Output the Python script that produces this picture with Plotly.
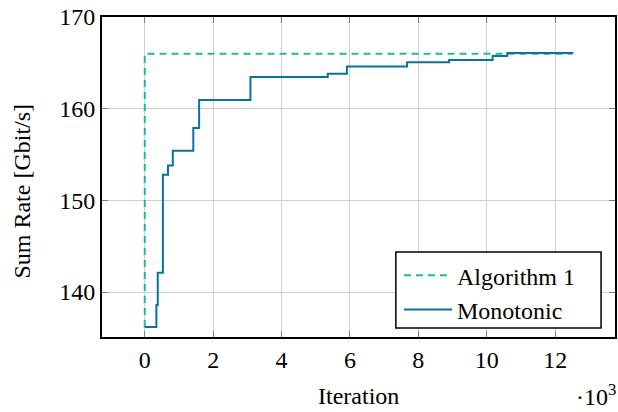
import plotly.graph_objects as go

# Data (iterations in thousands)
alg_x = [0, 0, 12.5]
alg_y = [136.2, 166.0, 166.0]

mono_x = [0, 0.34, 0.38, 0.53, 0.68, 0.82, 1.42, 1.59, 3.09, 5.35, 5.91, 7.67, 8.90, 10.17, 10.60, 12.53]
mono_y = [136.2, 138.6, 142.1, 152.8, 153.8, 155.4, 157.9, 160.95, 163.46, 163.8, 164.6, 165.06, 165.3, 165.75, 166.07, 166.07]

x_ticks = [0, 2, 4, 6, 8, 10, 12]
y_ticks = [140, 150, 160, 170]

FONT = "Liberation Serif"
FS = 24

fig = go.Figure()
fig.add_trace(go.Scatter(x=alg_x, y=alg_y, mode="lines", name="Algorithm 1",
                         line=dict(color="#1dbc96", width=2, dash="7px,5px")))
fig.add_trace(go.Scatter(x=mono_x, y=mono_y, mode="lines", name="Monotonic",
                         line=dict(color="#0a72a0", width=2, shape="hv")))

fig.update_layout(
    width=618, height=412,
    margin=dict(l=102, r=1, t=17, b=75),
    plot_bgcolor="white", paper_bgcolor="white",
    font=dict(family=FONT, size=FS, color="black"),
    showlegend=True,
    legend=dict(x=0.579, y=0.262, xanchor="left", yanchor="top",
                borderwidth=0, bgcolor="rgba(0,0,0,0)",
                font=dict(family=FONT, size=FS), tracegroupgap=0, itemwidth=48),
    xaxis=dict(range=[-1.25, 13.75], tickvals=x_ticks, ticktext=[str(v) for v in x_ticks],
               showgrid=True, gridcolor="#d0d0d0", gridwidth=1,
               zeroline=False, showline=True, linecolor="black", linewidth=2, mirror="ticks",
               ticks="inside", ticklen=6, tickcolor="#808080",
               tickfont=dict(family=FONT, size=FS)),
    yaxis=dict(range=[135.1, 170], tickvals=y_ticks, ticktext=[str(v) for v in y_ticks],
               showgrid=True, gridcolor="#d0d0d0", gridwidth=1,
               zeroline=False, showline=True, linecolor="black", linewidth=2, mirror="ticks",
               ticks="inside", ticklen=6, tickcolor="#808080",
               tickfont=dict(family=FONT, size=FS)),
)

# Legend frame
fig.add_shape(type="rect", xref="paper", yref="paper",
              x0=(397 - 102) / 515, x1=(603 - 102) / 515,
              y0=(337 - 328) / 320, y1=(337 - 252) / 320,
              line=dict(color="black", width=1.5), fillcolor="white", layer="above")

# Axis titles as annotations for precise placement
fig.add_annotation(x=0.5, y=-0.1375, xref="paper", yref="paper", xanchor="center", yanchor="top",
                   text="Iteration", showarrow=False, font=dict(family=FONT, size=FS, color="black"))
fig.add_annotation(x=-0.155, y=0.456, xref="paper", yref="paper", xanchor="center", yanchor="middle",
                   text="Sum Rate [Gbit/s]", textangle=-90, showarrow=False,
                   font=dict(family=FONT, size=FS, color="black"))
fig.add_annotation(x=1.006, y=-0.128, xref="paper", yref="paper", xanchor="right", yanchor="top",
                   text="·10<sup>3</sup>", showarrow=False,
                   font=dict(family=FONT, size=FS, color="black"))

fig.write_html("out.html", config={"displayModeBar": False},
               post_script="document.body.style.margin='0';")
